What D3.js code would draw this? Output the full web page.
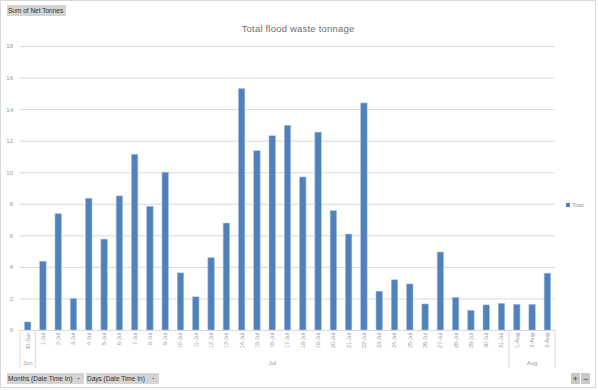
<!DOCTYPE html>
<html>
<head>
<script src="https://d3js.org/d3.v7.min.js"></script>
<style>
    body { margin: 0; background: #fff; }
    text { font-family: 'Liberation Sans', Arial, sans-serif; }
</style>
</head>
<body>
<script>
    // data
    var days = ['30-Jun',
        '1-Jul', '2-Jul', '3-Jul', '4-Jul', '5-Jul', '6-Jul', '7-Jul', '8-Jul', '9-Jul', '10-Jul',
        '11-Jul', '12-Jul', '13-Jul', '14-Jul', '15-Jul', '16-Jul', '17-Jul', '18-Jul', '19-Jul', '20-Jul',
        '21-Jul', '22-Jul', '23-Jul', '24-Jul', '25-Jul', '26-Jul', '27-Jul', '28-Jul', '29-Jul', '30-Jul',
        '31-Jul', '1-Aug', '2-Aug', '3-Aug'];
    var totals = [0.51,
        4.36, 7.37, 1.99, 8.35, 5.76, 8.50, 11.14, 7.84, 10.0, 3.62,
        2.10, 4.58, 6.78, 15.30, 11.36, 12.31, 12.97, 9.70, 12.54, 7.56,
        6.08, 14.39, 2.46, 3.18, 2.92, 1.65, 4.94, 2.06, 1.25, 1.59,
        1.69, 1.63, 1.63, 3.60];
    var months = ['Jun', 'Jul', 'Aug'];
    var yTicks = [0, 2, 4, 6, 8, 10, 12, 14, 16, 18];

    var width = 598, height = 390;
    var plot = {left: 20, right: 555, top: 46, bottom: 330};
    var barColor = '#4f81bd';
    var textGray = '#999';

    var svg = d3.select('body')
        .append('svg')
        .attr('width', width)
        .attr('height', height);

    // chart border
    svg.append('rect')
        .attr('x', 0.5).attr('y', 0.5)
        .attr('width', width - 3).attr('height', height - 3)
        .attr('fill', '#fff')
        .attr('stroke', '#d9d9d9');

    // scales
    var x = d3.scaleBand()
        .domain(days)
        .range([plot.left, plot.right])
        .paddingInner(0.58)
        .paddingOuter(0.29);
    var y = d3.scaleLinear()
        .domain([0, 18])
        .range([plot.bottom, plot.top]);

    // gridlines + y labels
    var yAxis = d3.axisLeft(y)
        .tickValues(yTicks)
        .tickSize(-(plot.right - plot.left))
        .tickPadding(7);
    var gy = svg.append('g')
        .attr('transform', 'translate(' + plot.left + ',0)')
        .call(yAxis);
    gy.select('.domain').remove();
    gy.selectAll('line').attr('stroke', '#d9d9d9');
    gy.selectAll('text')
        .attr('fill', textGray)
        .style('font-size', '6px');

    // bars
    svg.selectAll('rect.bar')
        .data(totals)
        .enter()
        .append('rect')
        .attr('class', 'bar')
        .attr('x', (d, i) => x(days[i]))
        .attr('y', d => y(d))
        .attr('width', x.bandwidth())
        .attr('height', d => y(0) - y(d))
        .attr('fill', barColor)
        .attr('stroke', '#a7bfde')
        .attr('stroke-width', 0.6);

    // x axis with rotated day labels
    var xAxis = d3.axisBottom(x).tickSize(0).tickPadding(3);
    var gx = svg.append('g')
        .attr('transform', 'translate(0,' + plot.bottom + ')')
        .call(xAxis);
    gx.select('.domain').attr('stroke', '#d9d9d9');
    gx.selectAll('text')
        .attr('fill', textGray)
        .style('font-size', '5.5px')
        .attr('text-anchor', 'end')
        .attr('transform', 'rotate(-90)')
        .attr('x', -3)
        .attr('y', 0)
        .attr('dy', '0.35em');

    // month group separators and labels
    var half = x.step() * x.paddingInner() / 2;
    var groups = months.map(m => {
        var ds = days.filter(d => d.split('-')[1] === m);
        return {
            name: m,
            x0: x(ds[0]) - half,
            x1: x(ds[ds.length - 1]) + x.bandwidth() + half
        };
    });
    var bounds = [groups[0].x0].concat(groups.map(g => g.x1));
    svg.selectAll('line.sep')
        .data(bounds)
        .enter()
        .append('line')
        .attr('class', 'sep')
        .attr('x1', d => d).attr('x2', d => d)
        .attr('y1', plot.bottom).attr('y2', 368)
        .attr('stroke', '#d9d9d9');
    svg.selectAll('text.month')
        .data(groups)
        .enter()
        .append('text')
        .attr('class', 'month')
        .attr('x', d => (d.x0 + d.x1) / 2)
        .attr('y', 365)
        .attr('text-anchor', 'middle')
        .attr('fill', textGray)
        .style('font-size', '6px')
        .text(d => d.name);

    // title
    svg.append('text')
        .attr('x', 298)
        .attr('y', 32)
        .attr('text-anchor', 'middle')
        .attr('fill', '#6e6e6e')
        .style('font-size', '9.5px')
        .style('letter-spacing', '0.2px')
        .text('Total flood waste tonnage');

    // legend
    svg.append('rect')
        .attr('x', 566).attr('y', 203)
        .attr('width', 4).attr('height', 4)
        .attr('fill', barColor);
    svg.append('text')
        .attr('x', 572).attr('y', 207)
        .attr('fill', textGray)
        .style('font-size', '5.5px')
        .text('Total');

    // pivot field buttons
    function button(bx, by, bw, label, arrow) {
        var g = svg.append('g');
        g.append('rect')
            .attr('x', bx).attr('y', by)
            .attr('width', bw).attr('height', 11)
            .attr('fill', '#d4d4d4');
        g.append('text')
            .attr('x', bx + 1).attr('y', by + 8)
            .attr('fill', '#333')
            .style('font-size', '6.5px')
            .text(label);
        if (arrow) {
            g.append('path')
                .attr('d', 'M' + (bx + bw - 7) + ',' + (by + 5) + 'h3l-1.5,1.5z')
                .attr('fill', '#777');
        }
    }
    button(7, 5, 59, 'Sum of Net Tonnes', false);
    button(7, 373, 77, 'Months (Date Time In)', true);
    button(86, 373, 73, 'Days (Date Time In)', true);

    // zoom buttons
    [['+', 571], ['\u2212', 581]].forEach(b => {
        svg.append('rect')
            .attr('x', b[1]).attr('y', 373)
            .attr('width', 9).attr('height', 11)
            .attr('fill', '#c8c8c8');
        svg.append('text')
            .attr('x', b[1] + 4.5).attr('y', 381.5)
            .attr('text-anchor', 'middle')
            .attr('fill', '#444')
            .style('font-size', '9px')
            .text(b[0]);
    });
</script>
</body>
</html>
